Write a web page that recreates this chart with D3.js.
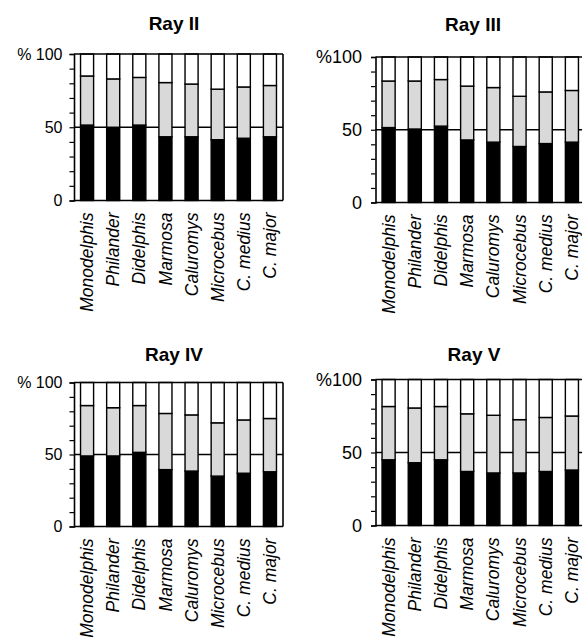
<!DOCTYPE html>
<html><head><meta charset="utf-8">
<script src="https://cdn.jsdelivr.net/npm/d3@7"></script>
<style>
body{margin:0;background:#fff;}
svg{display:block;font-family:"Liberation Sans",Arial,Helvetica,sans-serif;}
</style></head>
<body>
<script>
// ---- data ----
const taxa = ["Monodelphis","Philander","Didelphis","Marmosa","Caluromys","Microcebus","C. medius","C. major"];
const panelTitles = ["Ray II","Ray III","Ray IV","Ray V"];
const yTicks = [0,10,20,30,40,50,60,70,80,90,100];
const yLabelled = [0,50,100];
// black (basal) segment, % of ray
const blackII  = [51.5,50,51.5,43.5,43.5,41.5,42.5,43.5];
const blackIII = [51.5,50.5,52.5,43,41.5,38.5,40.5,41.5];
const blackIV  = [49,49,51.5,39.5,38.5,35,37,38];
const blackV   = [45,43,45,37,36,36,37,38];
// grey (middle) segment, % of ray
const greyII   = [33.5,33,32.5,37,36,34.5,35,35];
const greyIII  = [32,33,32,37,37.5,34.5,35.5,35.5];
const greyIV   = [35,33.5,32.5,39,39,37,37,37];
const greyV    = [36.5,37.5,36.5,39.5,39.5,36.5,37,37];

const blacks = [blackII, blackIII, blackIV, blackV];
const greys = [greyII, greyIII, greyIV, greyV];

// ---- layout ----
const layouts = [
  {L:74,  R:283, T:54,  B:200.5, tx:174, ty:30,  pct:"% ", lab:12, yfs:16, pad:7},
  {L:375.5,R:585, T:57,  B:202.5, tx:473, ty:31,  pct:"%",  lab:12, yfs:18, pad:9},
  {L:74,  R:283, T:382.5,B:526.5, tx:174, ty:361, pct:"% ", lab:12, yfs:16, pad:7},
  {L:375.5,R:585, T:379.5,B:525.5, tx:474, ty:361, pct:"%",  lab:12, yfs:18, pad:9}
];
const fills = {black:"#000", grey:"#d9d9d9", white:"#fff"};

const svg = d3.select("body").append("svg").attr("width",582).attr("height",642);

panelTitles.forEach((title, i) => {
  const lo = layouts[i];
  const rows = taxa.map((t, j) => ({taxon:t, black:blacks[i][j], grey:greys[i][j], white:100 - blacks[i][j] - greys[i][j]}));
  const series = d3.stack().keys(["black","grey","white"])(rows);

  const x = d3.scaleBand().domain(taxa).range([lo.L, lo.R]).paddingInner(0.5).paddingOuter(0.25);
  const y = d3.scaleLinear().domain([0,100]).range([lo.B, lo.T]);
  const g = svg.append("g");

  g.append("text").attr("x", lo.tx).attr("y", lo.ty).attr("text-anchor","middle")
    .attr("font-size",19).attr("font-weight","bold").text(title);

  // 50% reference line
  g.append("line").attr("x1",lo.L).attr("x2",lo.R).attr("y1",y(50)).attr("y2",y(50))
    .attr("stroke","#000").attr("stroke-width",1.5);

  // bars
  g.selectAll("g.s").data(series).join("g").attr("class","s")
    .attr("fill", d => fills[d.key])
    .selectAll("rect").data(d => d).join("rect")
    .attr("x", d => x(d.data.taxon))
    .attr("width", x.bandwidth())
    .attr("y", d => y(d[1]))
    .attr("height", d => y(d[0]) - y(d[1]))
    .attr("stroke","#000").attr("stroke-width",1.4);

  // frame
  g.append("line").attr("x1",lo.L).attr("x2",lo.R).attr("y1",lo.T).attr("y2",lo.T).attr("stroke","#000").attr("stroke-width",1.6);
  g.append("line").attr("x1",lo.L).attr("x2",lo.R).attr("y1",lo.B).attr("y2",lo.B).attr("stroke","#000").attr("stroke-width",1.6);
  g.append("line").attr("x1",lo.R).attr("x2",lo.R).attr("y1",lo.T).attr("y2",lo.B).attr("stroke","#000").attr("stroke-width",1.6);

  // y axis
  const ax = g.append("g").attr("transform",`translate(${lo.L},0)`)
    .call(d3.axisLeft(y).tickValues(yTicks).tickSize(4.5).tickPadding(lo.pad)
      .tickFormat(d => yLabelled.includes(d) ? (d === 100 ? lo.pct + "100" : String(d)) : ""));
  ax.select(".domain").attr("stroke-width",1.6);
  ax.selectAll(".tick line").attr("stroke-width",1.2);
  ax.selectAll(".tick text").attr("font-size",lo.yfs).attr("font-family","\"Liberation Sans\",Arial,sans-serif").attr("fill","#000");

  // x labels
  g.selectAll("text.xl").data(taxa).join("text").attr("class","xl")
    .attr("transform", d => `translate(${x(d) + x.bandwidth()/2},${lo.B + lo.lab}) rotate(-90)`)
    .attr("text-anchor","end").attr("dy","0.35em")
    .attr("font-size",17.5).attr("font-style","italic").text(d => d);
});
</script>
</body></html>
